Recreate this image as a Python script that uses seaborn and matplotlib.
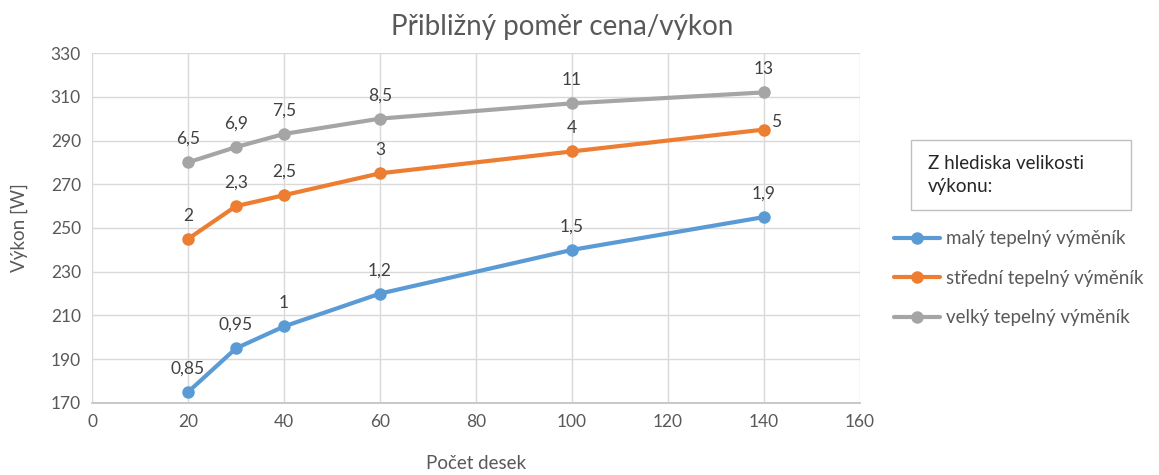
import matplotlib.pyplot as plt
import seaborn as sns
import pandas as pd
from matplotlib.patches import Rectangle

# data
pocet_desek = [20, 30, 40, 60, 100, 140]
vykon_maly = [175, 195, 205, 220, 240, 255]
vykon_stredni = [245, 260, 265, 275, 285, 295]
vykon_velky = [280, 287, 293, 300, 307, 312]
popisky_maly = ["0,85", "0,95", "1", "1,2", "1,5", "1,9"]
popisky_stredni = ["2", "2,3", "2,5", "3", "4", "5"]
popisky_velky = ["6,5", "6,9", "7,5", "8,5", "11", "13"]
serie = ["malý tepelný výměník", "střední tepelný výměník", "velký tepelný výměník"]

barvy = ["#5B9BD5", "#ED7D31", "#A5A5A5"]
text_color = "#595959"

sns.set_theme(style="whitegrid")
plt.rcParams["font.family"] = ["Lato", "DejaVu Sans"]

df = pd.DataFrame({
    "x": pocet_desek * 3,
    "y": vykon_maly + vykon_stredni + vykon_velky,
    "serie": [serie[0]] * 6 + [serie[1]] * 6 + [serie[2]] * 6,
})

fig = plt.figure(figsize=(11.59, 4.75), dpi=100)
ax = fig.add_axes([0.0794, 0.1516, 0.6626, 0.7368])

sns.lineplot(data=df, x="x", y="y", hue="serie", palette=barvy,
             marker="o", markersize=9, markeredgewidth=0, linewidth=3,
             ax=ax)

for ys, labels in [(vykon_maly, popisky_maly), (vykon_stredni, popisky_stredni),
                   (vykon_velky, popisky_velky)]:
    for xv, yv, lab in zip(pocet_desek, ys, labels):
        if lab == "5":
            ax.annotate(lab, (xv, yv), xytext=(5, 0), textcoords="offset points",
                        ha="left", va="bottom", fontsize=12.5, color="#404040")
        else:
            ax.annotate(lab, (xv, yv), xytext=(0, 11), textcoords="offset points",
                        ha="center", va="bottom", fontsize=12.5, color="#404040")

ax.set_xlim(0, 160)
ax.set_ylim(170, 330)
ax.set_xticks(range(0, 161, 20))
ax.set_yticks(range(170, 331, 20))
ax.grid(True, color="#D9D9D9", linewidth=1)
for s in ["left", "right", "top"]:
    ax.spines[s].set_visible(False)
ax.spines["bottom"].set_color("#BFBFBF")
ax.spines["bottom"].set_linewidth(1.2)
ax.tick_params(axis="both", colors=text_color, labelsize=12.5, length=0, pad=8)

ax.set_xlabel("Počet desek", fontsize=13.5, color=text_color, labelpad=18)
ax.set_ylabel("Výkon [W]", fontsize=13.5, color=text_color, labelpad=16)
fig.text(0.485, 0.915, "Přibližný poměr cena/výkon", ha="center", va="bottom",
         fontsize=20, color=text_color)

# legend title in its own box
fig.patches.append(Rectangle((0.786, 0.5579), 0.1898, 0.1474,
                             transform=fig.transFigure, fc="white",
                             ec="#BFBFBF", lw=1))
fig.text(0.8007, 0.632, "Z hlediska velikosti\nvýkonu:", ha="left", va="center",
         fontsize=13.5, color="#262626", linespacing=1.45)

handles, labels = ax.get_legend_handles_labels()
ax.legend(handles, labels, loc="upper left", bbox_to_anchor=(0.7653, 0.531),
          bbox_transform=fig.transFigure, frameon=False, fontsize=13.5,
          labelcolor=text_color, handlelength=2.45, handletextpad=0.3,
          labelspacing=1.2, borderaxespad=0)

fig.savefig("out.png", dpi=100, facecolor="white")
